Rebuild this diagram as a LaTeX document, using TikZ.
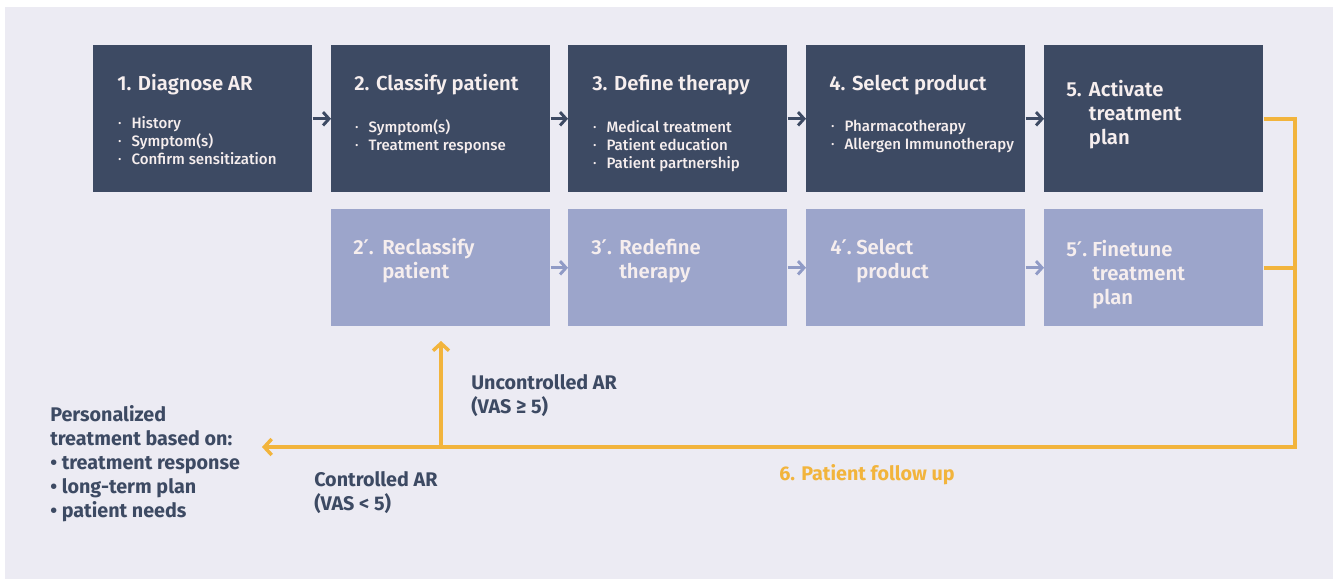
\documentclass[tikz,border=0pt]{standalone}
\usepackage{fontspec}
\setmainfont{Fira Sans}[BoldFont={Fira Sans SemiBold}]
\newfontfamily\fmed{Fira Sans Medium}
\newfontfamily\fheavy{Fira Sans}
\newfontfamily\dv{DejaVu Sans}
\usetikzlibrary{arrows.meta}
\definecolor{bgc}{HTML}{ECEBF3}
\definecolor{darkbox}{HTML}{3D4A63}
\definecolor{lightbox}{HTML}{9CA5CB}
\definecolor{boxtext}{HTML}{F6EEEE}
\definecolor{orng}{HTML}{F2B43C}
\definecolor{larrow}{HTML}{909BC6}
\newcommand\bl{\makebox[10pt][l]{\raisebox{0.2ex}{\fontsize{6.5}{6.5}\selectfont •}}}
\newcommand\pr{{\dv\bfseries ′}}
\tikzset{
  dbox/.style={fill=darkbox, draw=none, inner sep=0, minimum width=164.25pt, minimum height=110.25pt, anchor=north west},
  lbox/.style={fill=lightbox, draw=none, inner sep=0, minimum width=164.25pt, minimum height=87.75pt, anchor=north west},
  ttl/.style={font=\bfseries\fontsize{15.2}{18}\selectfont, text=boxtext, inner sep=0, anchor=base west, align=left},
  items/.style={font=\fmed\fontsize{11.3}{13.5}\selectfont, text=boxtext, inner sep=0, anchor=base west, align=left},
  note/.style={font=\fheavy\bfseries\fontsize{14.8}{18}\selectfont, text=darkbox, inner sep=0, anchor=base west, align=left},
  darr/.style={draw=darkbox, line width=2.2pt, -{Straight Barb[length=4.5pt,width=10pt]}},
  larr/.style={draw=larrow, line width=2.2pt, -{Straight Barb[length=4.5pt,width=10pt]}},
  oline/.style={draw=orng, line width=2.6pt},
  oarr/.style={draw=orng, line width=2.6pt, -{Straight Barb[length=5.5pt,width=12pt]}},
}
\begin{document}
\begin{tikzpicture}[x=0.75pt,y=-0.75pt]
\useasboundingbox (0,0) rectangle (1333,579);
\fill[white] (0,0) rectangle (1333,579);
\fill[bgc] (5,7) rectangle (1333,579);
% top row
\node[dbox] (b1) at (93,45) {};
\node[dbox] (b2) at (331,45) {};
\node[dbox] (b3) at (568,45) {};
\node[dbox] (b4) at (806,45) {};
\node[dbox] (b5) at (1044,45) {};
% bottom row
\node[lbox] (p2) at (331,209) {};
\node[lbox] (p3) at (568,209) {};
\node[lbox] (p4) at (806,209) {};
\node[lbox] (p5) at (1044,209) {};
% texts top (multi-line nodes: base = last line)
\node[ttl] (t1) at (117,90.5) {1. Diagnose AR};
\node[items] (i1) at (118,164) {\bl History\\\bl Symptom(s)\\\bl Confirm sensitization};
\node[ttl] (t2) at (354,90.5) {2. Classify patient};
\node[items] (i2) at (355,150) {\bl Symptom(s)\\\bl Treatment response};
\node[ttl] (t3) at (592,90.5) {3. Define therapy};
\node[items] (i3) at (593,168) {\bl Medical treatment\\\bl Patient education\\\bl Patient partnership};
\node[ttl] (t4) at (829,90.5) {4. Select product};
\node[items] (i4) at (831,149.5) {\bl Pharmacotherapy\\\bl Allergen Immunotherapy};
\node[ttl] (t5) at (1066,144.5) {\makebox[17pt][l]{5.}Activate\\\hspace*{17pt}treatment\\\hspace*{17pt}plan};
% texts bottom
\node[ttl] (s2) at (353,278) {\makebox[21.75pt][l]{2\pr.}Reclassify\\\hspace*{21.75pt}patient};
\node[ttl] (s3) at (591,278) {\makebox[21pt][l]{3\pr.}Redefine\\\hspace*{21pt}therapy};
\node[ttl] (s4) at (830,278) {\makebox[19.5pt][l]{4\pr.}Select\\\hspace*{19.5pt}product};
\node[ttl] (s5) at (1066,304.5) {\makebox[19.5pt][l]{5\pr.}Finetune\\\hspace*{19.5pt}treatment\\\hspace*{19.5pt}plan};
% arrows
\draw[darr] (b1.east) -- (b2.west);
\draw[darr] (b2.east) -- (b3.west);
\draw[darr] (b3.east) -- (b4.west);
\draw[darr] (b4.east) -- (b5.west);
\draw[larr] (p2.east) -- (p3.west);
\draw[larr] (p3.east) -- (p4.west);
\draw[larr] (p4.east) -- (p5.west);
% follow-up loop
\coordinate (cr) at (1295,447);
\coordinate (cm) at (441,447);
\coordinate (cl) at (262,447);
\coordinate (cu) at (441,341);
\draw[oline] (b5.east) -| (cr) -- (cm);
\draw[oline] (p5.east) -- (p5.east -| cr);
\draw[oarr] (cm) -- (cl);
\draw[oarr] (cm) -- (cu);
% labels
\node[note] (pers) at (50,517.5) {Personalized\\treatment based on:\\• treatment response\\• long-term plan\\• patient needs};
\node[note] (unc) at (471,413) {Uncontrolled AR\\(VAS ≥ 5)};
\node[note] (con) at (314,510.5) {Controlled AR\\(VAS < 5)};
\node[note, text=orng] (fu) at (779,480.5) {6. Patient follow up};
\end{tikzpicture}
\end{document}
